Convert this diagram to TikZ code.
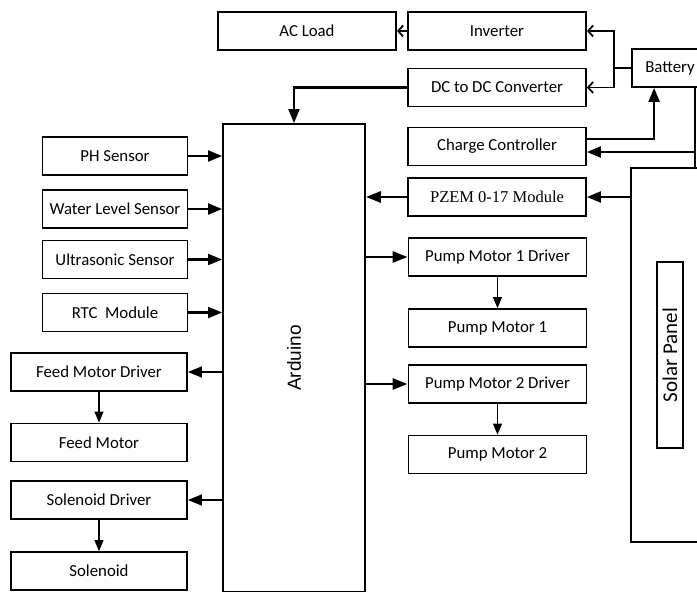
\documentclass[tikz,border=0pt]{standalone}
\usepackage{fontspec}
\setmainfont{Carlito}
\newfontfamily\pzemfont{Liberation Serif}
\newfontfamily\ardfont{Liberation Sans}
\usepackage{graphicx}
\usepackage{tikz}
\usetikzlibrary{positioning,arrows.meta,calc}
\tikzset{
  blk/.style   ={draw, rectangle, line width=1.8pt, minimum height=38pt, inner sep=0pt, align=center, font=\fontsize{16.8}{20}\selectfont},
  sens/.style  ={blk, minimum width=145pt},
  drv/.style   ={blk, minimum width=176pt},
  pwr/.style   ={blk, minimum width=178pt},
  arr/.style   ={-{Triangle[length=14pt, width=11pt]}, line width=2.1pt},
  larr/.style  ={-{Triangle[length=14pt, width=11pt]}, line width=1.5pt},
  tarr/.style  ={-{Triangle[length=15pt, width=11pt]}, line width=2.8pt},
  narr/.style  ={-{Triangle[length=11pt, width=9pt]}, line width=1.1pt},
  oarr/.style  ={-{Straight Barb[length=5pt, width=11pt]}, line width=1.8pt},
  wire/.style  ={line width=1.8pt},
}

\begin{document}
\begin{tikzpicture}[x=1pt, y=-1pt]
  \useasboundingbox (0,0) rectangle (697,592);
  \clip (0,0) rectangle (697,592);

  % power side
  \node[pwr] (acload) at (307,31)    {AC Load};
  \node[pwr] (inv)    at (497,31)    {Inverter};
  \node[pwr] (dcdc)   at (497,87.5)  {DC to DC Converter};
  \node[pwr] (cc)     at (497,146.5) {Charge Controller};
  \node[pwr, font=\pzemfont\fontsize{16.5}{19}\selectfont] (pzem) at (497,197) {PZEM 0-17 Module};
  \node[blk, minimum width=76pt] (battery) at (670,68) {Battery};
  \node[draw, line width=1.8pt, minimum width=78pt, minimum height=374pt] (solar) at (670,355) {};
  \node[draw, line width=1.8pt, minimum width=26pt, minimum height=186pt, inner sep=0pt, font=\fontsize{21}{24}\selectfont] (solartxt) at (solar.center) {\rotatebox{90}{Solar Panel}};

  % controller
  \node[draw, line width=1.8pt, minimum width=142pt, minimum height=468pt, font=\ardfont\fontsize{19}{22}\selectfont] (arduino) at (294,358) {\rotatebox{90}{Arduino}};

  % inputs
  \node[sens] (ph)  at (115,156)   {PH Sensor};
  \node[sens] (wls) at (115,209)   {Water Level Sensor};
  \node[sens] (us)  at (115,259.5) {Ultrasonic Sensor};
  \node[sens] (rtc) at (115,312.5) {RTC~ Module};

  % outputs
  \node[drv] (fmd) at (99,372)   {Feed Motor Driver};
  \node[drv] (fm)  at (99,442.5) {Feed Motor};
  \node[drv] (sd)  at (99,500)   {Solenoid Driver};
  \node[drv] (sol) at (99,571)   {Solenoid};
  \node[pwr] (pm1d) at (497.5,257)   {Pump Motor 1 Driver};
  \node[pwr] (pm1)  at (497.5,328)   {Pump Motor 1};
  \node[pwr] (pm2d) at (497.5,384)   {Pump Motor 2 Driver};
  \node[pwr] (pm2)  at (497.5,454.5) {Pump Motor 2};

  % battery and solar wiring
  \coordinate (bsplit) at ($(battery.west)+(-17,0)$);
  \draw[wire] (battery.west) -- (bsplit);
  \draw[oarr] (bsplit) |- (inv.east);
  \draw[oarr] (bsplit) |- (dcdc.east);
  \draw[oarr] (inv.west) -- (acload.east);
  \draw[arr] (dcdc.west) -| (arduino.north);
  \coordinate (ccout) at ($(cc.east)+(0,-7.5)$);
  \coordinate (ccin)  at ($(cc.east)+(0,5.5)$);
  \coordinate (spup)  at ($(solar.north)+(25,0)$);
  \draw[arr] (ccout) -| ($(battery.south west)+(23,0)$);
  \draw[wire] (spup) -- (spup |- battery.south);
  \draw[arr] (spup |- ccin) -- (ccin);
  \draw[arr] (solar.west |- pzem.east) -- (pzem.east);
  \draw[tarr] (pzem.west) -- (arduino.east |- pzem.west);

  % arduino links
  \foreach \s in {ph,wls,us,rtc}
    \draw[arr] (\s.east) -- (arduino.west |- \s.east);
  \foreach \d/\m in {fmd/fm,sd/sol}{
    \draw[larr] (arduino.west |- \d.east) -- (\d.east);
    \draw[narr] (\d) -- (\m);
  }
  \foreach \d/\m in {pm1d/pm1,pm2d/pm2}{
    \draw[tarr] (arduino.east |- \d.west) -- (\d.west);
    \draw[narr] (\d) -- (\m);
  }
\end{tikzpicture}
\end{document}
